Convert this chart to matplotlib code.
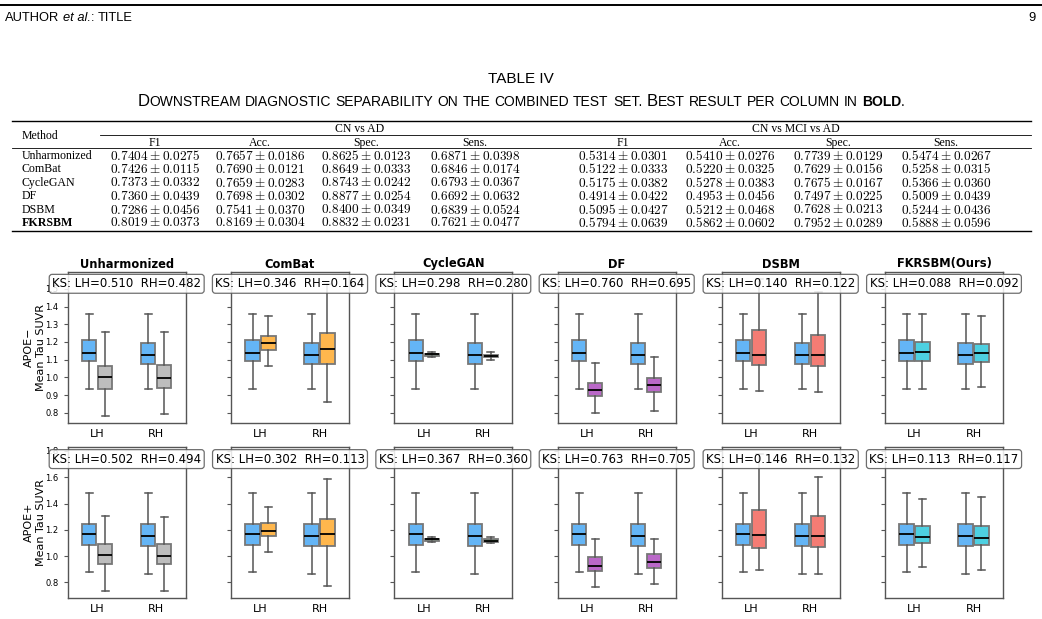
import matplotlib
matplotlib.use('Agg')
import matplotlib.pyplot as plt
from matplotlib.lines import Line2D
from matplotlib.ticker import MultipleLocator

plt.rcParams['mathtext.fontset'] = 'cm'

W, H = 1042, 619

# ---- table data (mean, std) ----
table_methods = ['Unharmonized', 'ComBat', 'CycleGAN', 'DF', 'DSBM', 'FKRSBM']
cn_ad_f1 = [(0.7404, 0.0275), (0.7426, 0.0115), (0.7373, 0.0332), (0.7360, 0.0439), (0.7286, 0.0456), (0.8019, 0.0373)]
cn_ad_acc = [(0.7657, 0.0186), (0.7690, 0.0121), (0.7659, 0.0283), (0.7698, 0.0302), (0.7541, 0.0370), (0.8169, 0.0304)]
cn_ad_spec = [(0.8625, 0.0123), (0.8649, 0.0333), (0.8743, 0.0242), (0.8877, 0.0254), (0.8400, 0.0349), (0.8832, 0.0231)]
cn_ad_sens = [(0.6871, 0.0398), (0.6846, 0.0174), (0.6793, 0.0367), (0.6692, 0.0632), (0.6839, 0.0524), (0.7621, 0.0477)]
mci_f1 = [(0.5314, 0.0301), (0.5122, 0.0333), (0.5175, 0.0382), (0.4914, 0.0422), (0.5095, 0.0427), (0.5794, 0.0639)]
mci_acc = [(0.5410, 0.0276), (0.5220, 0.0325), (0.5278, 0.0383), (0.4953, 0.0456), (0.5212, 0.0468), (0.5862, 0.0602)]
mci_spec = [(0.7739, 0.0129), (0.7629, 0.0156), (0.7675, 0.0167), (0.7497, 0.0225), (0.7628, 0.0213), (0.7952, 0.0289)]
mci_sens = [(0.5474, 0.0267), (0.5258, 0.0315), (0.5366, 0.0360), (0.5009, 0.0439), (0.5244, 0.0436), (0.5888, 0.0596)]
col_headers = ['F1', 'Acc.', 'Spec.', 'Sens.', 'F1', 'Acc.', 'Spec.', 'Sens.']

# ---- boxplot data: [whislo, q1, med, q3, whishi] ----
methods = ['Unharmonized', 'ComBat', 'CycleGAN', 'DF', 'DSBM', 'FKRSBM(Ours)']
colors = ['#BDBDBD', '#FFB74D', '#81C784', '#BA68C8', '#F47C74', '#4DD0E1']
ref_color = '#64B5F6'
hemis = ['LH', 'RH']

ks_neg_lh = [0.510, 0.346, 0.298, 0.760, 0.140, 0.088]
ks_neg_rh = [0.482, 0.164, 0.280, 0.695, 0.122, 0.092]
ks_pos_lh = [0.502, 0.302, 0.367, 0.763, 0.146, 0.113]
ks_pos_rh = [0.494, 0.113, 0.360, 0.705, 0.132, 0.117]

ref_neg_lh = [0.935, 1.090, 1.139, 1.211, 1.357]
ref_neg_rh = [0.935, 1.076, 1.126, 1.195, 1.357]
harm_neg_lh = [
    [0.781, 0.935, 1.003, 1.064, 1.259],
    [1.062, 1.156, 1.195, 1.233, 1.349],
    [1.113, 1.122, 1.130, 1.134, 1.146],
    [0.796, 0.897, 0.931, 0.970, 1.081],
    [0.924, 1.068, 1.128, 1.267, 1.558],
    [0.935, 1.094, 1.143, 1.201, 1.357],
]
harm_neg_rh = [
    [0.792, 0.942, 0.999, 1.068, 1.259],
    [0.860, 1.076, 1.160, 1.252, 1.530],
    [1.100, 1.115, 1.120, 1.126, 1.143],
    [0.811, 0.916, 0.959, 0.999, 1.117],
    [0.918, 1.062, 1.126, 1.239, 1.481],
    [0.948, 1.085, 1.137, 1.190, 1.349],
]
ref_pos_lh = [0.876, 1.086, 1.170, 1.248, 1.481]
ref_pos_rh = [0.868, 1.081, 1.154, 1.248, 1.481]
harm_pos_lh = [
    [0.732, 0.944, 1.008, 1.096, 1.306],
    [1.033, 1.154, 1.195, 1.253, 1.377],
    [1.106, 1.119, 1.127, 1.134, 1.147],
    [0.765, 0.886, 0.924, 0.995, 1.129],
    [0.896, 1.066, 1.159, 1.354, 1.778],
    [0.914, 1.099, 1.147, 1.233, 1.438],
]
harm_pos_rh = [
    [0.732, 0.942, 1.003, 1.089, 1.296],
    [0.777, 1.076, 1.170, 1.284, 1.587],
    [1.101, 1.111, 1.119, 1.127, 1.147],
    [0.787, 0.911, 0.952, 1.013, 1.129],
    [0.861, 1.073, 1.152, 1.304, 1.603],
    [0.896, 1.086, 1.137, 1.233, 1.451],
]


def fx(x):
    return x / W


def fy(y):
    return 1 - y / H


fig = plt.figure(figsize=(W / 100, H / 100), dpi=100)
renderer = fig.canvas.get_renderer()


def hline(y, x0, x1, lw):
    fig.add_artist(Line2D([fx(x0), fx(x1)], [fy(y), fy(y)], lw=lw, color='black',
                          transform=fig.transFigure))


def place_runs(runs, x, y, align='left', family='Liberation Sans'):
    # runs: (text, props, gap after in px)
    arts = []
    for s, kw, gap in runs:
        t = fig.text(0, fy(y), s, family=family, va='baseline', **kw)
        w = t.get_window_extent(renderer=renderer).width
        arts.append((t, w, gap))
    total = sum(w + g for _, w, g in arts) - arts[-1][2]
    if align == 'center':
        cur = x - total / 2
    elif align == 'right':
        cur = x - total
    else:
        cur = x
    for t, w, g in arts:
        t.set_x(fx(cur))
        cur += w + g
    return total


# ---- page header ----
hline(5, 0, W, 1.4)
place_runs([('AUTHOR', dict(fontsize=9.3), 3.5), ('et al.', dict(fontsize=9.3, style='italic'), 0),
            (':', dict(fontsize=9.3), 3.5), ('TITLE', dict(fontsize=9.3), 0)], 5, 21)
fig.text(fx(1036), fy(21), '9', family='Liberation Sans', fontsize=9.3, ha='right', va='baseline')

# ---- table caption ----
fig.text(fx(521), fy(83), 'TABLE IV', family='Liberation Sans', fontsize=11, ha='center', va='baseline')

big, small = 12, 10
sp = 4.2
cap_runs = [('D', dict(fontsize=big), 0), ('OWNSTREAM', dict(fontsize=small), sp),
            ('DIAGNOSTIC', dict(fontsize=small), sp), ('SEPARABILITY', dict(fontsize=small), sp),
            ('ON', dict(fontsize=small), sp), ('THE', dict(fontsize=small), sp),
            ('COMBINED', dict(fontsize=small), sp), ('TEST', dict(fontsize=small), sp),
            ('SET.', dict(fontsize=small), sp), ('B', dict(fontsize=big), 0),
            ('EST', dict(fontsize=small), sp), ('RESULT', dict(fontsize=small), sp),
            ('PER', dict(fontsize=small), sp), ('COLUMN', dict(fontsize=small), sp),
            ('IN', dict(fontsize=small), sp), ('BOLD', dict(fontsize=small, weight='bold'), 0),
            ('.', dict(fontsize=small), 0)]
place_runs(cap_runs, 521, 106, align='center')

# ---- table ----
left, right = 12, 1031
col_x = [155, 260, 366, 475, 623, 730, 838, 946]
hline(121, left, right, 1.0)
hline(134.5, 100, right, 0.6)
hline(147.5, left, right, 0.6)
hline(230.5, left, right, 1.0)

serif = 'Liberation Serif'
fig.text(fx(22), fy(134.5), 'Method', family=serif, fontsize=8.5, va='center_baseline')
fig.text(fx(360), fy(128), 'CN vs AD', family=serif, fontsize=8.5, ha='center', va='center_baseline')
fig.text(fx(796), fy(128), 'CN vs MCI vs AD', family=serif, fontsize=8.5, ha='center', va='center_baseline')
for cx, hd in zip(col_x, col_headers):
    fig.text(fx(cx), fy(141.5), hd, family=serif, fontsize=8.5, ha='center', va='center_baseline')

columns = [cn_ad_f1, cn_ad_acc, cn_ad_spec, cn_ad_sens, mci_f1, mci_acc, mci_spec, mci_sens]
row_y = [154.5 + 13.4 * i for i in range(len(table_methods))]
for i, (m, ry) in enumerate(zip(table_methods, row_y)):
    fig.text(fx(22), fy(ry), m, family=serif, fontsize=8.6, va='center_baseline',
             weight='bold' if m == 'FKRSBM' else 'normal')
for cx, col in zip(col_x, columns):
    best = max(range(len(col)), key=lambda k: col[k][0])
    for k, (mu, sd) in enumerate(col):
        if k == best:
            s = r'$\mathbf{%.4f}\pm\mathbf{%.4f}$' % (mu, sd)
        else:
            s = r'$%.4f\pm%.4f$' % (mu, sd)
        fig.text(fx(cx), fy(row_y[k]), s, fontsize=9.6, ha='center', va='center_baseline')

# ---- boxplot grid ----
ax_left = [67.7, 231, 394.3, 557.7, 721.7, 885]
ax_w = 118
rows = [
    dict(top=271.7, bottom=423, ref=(ref_neg_lh, ref_neg_rh), harm=(harm_neg_lh, harm_neg_rh),
         ks=(ks_neg_lh, ks_neg_rh), step=0.1, label='APOE\u2212\nMean Tau SUVR', titles=True),
    dict(top=447, bottom=598.3, ref=(ref_pos_lh, ref_pos_rh), harm=(harm_pos_lh, harm_pos_rh),
         ks=(ks_pos_lh, ks_pos_rh), step=0.2, label='APOE+\nMean Tau SUVR', titles=False),
]


def draw_box(ax, st, pos, color):
    stats = dict(whislo=st[0], q1=st[1], med=st[2], q3=st[3], whishi=st[4], fliers=[])
    ax.bxp([stats], positions=[pos], widths=0.245, patch_artist=True, showfliers=False,
           manage_ticks=False,
           boxprops=dict(facecolor=color, edgecolor='#777777', linewidth=1.3),
           medianprops=dict(color='black', linewidth=1.3),
           whiskerprops=dict(color='#555555', linewidth=1.1),
           capprops=dict(color='#555555', linewidth=1.1))


for r in rows:
    first = None
    for j, m in enumerate(methods):
        rect = [fx(ax_left[j]), fy(r['bottom']), ax_w / W, (r['bottom'] - r['top']) / H]
        ax = fig.add_axes(rect, sharey=first)
        if first is None:
            first = ax
        for h in range(2):
            draw_box(ax, r['ref'][h], h - 0.135, ref_color)
            draw_box(ax, r['harm'][h][j], h + 0.135, colors[j])
        ax.set_xlim(-0.5, 1.5)
        ax.set_xticks([0, 1])
        ax.set_xticklabels(hemis, fontsize=8)
        ax.tick_params(axis='x', length=0, pad=4)
        ax.tick_params(axis='y', labelsize=6, length=3, width=0.8, color='#555555')
        ax.yaxis.set_major_locator(MultipleLocator(r['step']))
        if j > 0:
            ax.tick_params(labelleft=False)
        for s in ax.spines.values():
            s.set_color('#555555')
            s.set_linewidth(1.0)
        ax.text(0.5, 0.92, 'KS: LH=%.3f  RH=%.3f' % (r['ks'][0][j], r['ks'][1][j]),
                transform=ax.transAxes, ha='center', va='center', fontsize=8.5, zorder=10,
                bbox=dict(boxstyle='round,pad=0.25', facecolor='white', edgecolor='#555555',
                          linewidth=0.9, alpha=0.85))
        if r['titles']:
            fig.text(fx(ax_left[j] + ax_w / 2), fy(264), m, fontsize=8.3, weight='bold',
                     ha='center', va='center')
    fig.text(fx(35), fy((r['top'] + r['bottom']) / 2), r['label'], rotation=90, fontsize=8,
             ha='center', va='center', multialignment='center')

fig.savefig('out.png', dpi=100)
